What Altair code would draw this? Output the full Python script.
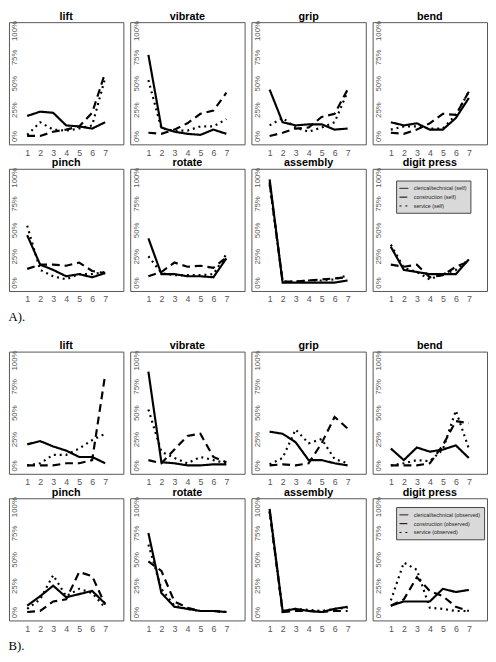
import altair as alt
import pandas as pd

tasks = ["lift", "vibrate", "grip", "bend", "pinch", "rotate", "assembly", "digit press"]
levels = [1, 2, 3, 4, 5, 6, 7]
y_ticks = [0, 25, 50, 75, 100]

self_series = ["clerical/technical (self)", "construction (self)", "service (self)"]
obs_series = ["clerical/technical (observed)", "construction (observed)", "service (observed)"]

# ---- A) self-reported (% of respondents at each level) ----
self_clerical = {
    "lift": [19, 23, 22, 10, 9, 7, 13],
    "vibrate": [77, 8, 4, 2, 1, 6, 2],
    "grip": [44, 13, 10, 11, 11, 6, 7],
    "bend": [13, 10, 12, 6, 6, 17, 36],
    "pinch": [45, 17, 12, 6, 8, 5, 9],
    "rotate": [42, 8, 8, 6, 6, 5, 23],
    "assembly": [98, 0, 0, 0, 0, 0, 2],
    "digit press": [34, 12, 10, 8, 8, 8, 22],
}
self_construction = {
    "lift": [0, 0, 4, 6, 9, 22, 60],
    "vibrate": [3, 2, 6, 12, 21, 24, 41],
    "grip": [0, 3, 7, 8, 18, 21, 44],
    "bend": [3, 2, 6, 12, 21, 20, 42],
    "pinch": [13, 17, 17, 16, 19, 11, 9],
    "rotate": [6, 10, 19, 15, 16, 14, 24],
    "assembly": [95, 1, 1, 2, 3, 4, 5],
    "digit press": [17, 15, 17, 5, 7, 15, 20],
}
self_service = {
    "lift": [1, 13, 6, 5, 7, 10, 55],
    "vibrate": [53, 7, 5, 5, 9, 9, 16],
    "grip": [10, 17, 8, 4, 8, 13, 42],
    "bend": [6, 9, 9, 7, 7, 20, 42],
    "pinch": [54, 12, 6, 3, 8, 8, 10],
    "rotate": [25, 9, 7, 7, 7, 8, 27],
    "assembly": [93, 1, 1, 2, 2, 3, 7],
    "digit press": [36, 14, 10, 3, 8, 12, 22],
}

# ---- B) observed ----
obs_clerical = {
    "lift": [20, 23, 18, 14, 8, 8, 2],
    "vibrate": [89, 3, 2, 0, 0, 1, 1],
    "grip": [32, 30, 22, 5, 5, 2, 0],
    "bend": [16, 5, 17, 13, 15, 19, 7],
    "pinch": [6, 15, 25, 14, 17, 20, 8],
    "rotate": [75, 18, 5, 3, 1, 1, 0],
    "assembly": [98, 1, 3, 1, 0, 3, 5],
    "digit press": [6, 10, 10, 10, 22, 19, 21],
}
obs_construction = {
    "lift": [0, 0, 0, 2, 2, 5, 86],
    "vibrate": [5, 2, 15, 28, 30, 8, 3],
    "grip": [0, 1, 0, 2, 21, 46, 35],
    "bend": [0, 0, 0, 2, 19, 42, 40],
    "pinch": [0, 1, 10, 12, 38, 34, 7],
    "rotate": [48, 39, 10, 4, 1, 1, 0],
    "assembly": [96, 0, 1, 1, 0, 1, 1],
    "digit press": [6, 12, 33, 20, 15, 5, 1],
}
obs_service = {
    "lift": [0, 2, 10, 10, 16, 24, 30],
    "vibrate": [53, 13, 7, 2, 8, 5, 2],
    "grip": [1, 7, 34, 21, 25, 6, 2],
    "bend": [0, 2, 5, 4, 15, 52, 16],
    "pinch": [3, 12, 35, 15, 22, 18, 4],
    "rotate": [64, 22, 6, 3, 1, 1, 0],
    "assembly": [95, 1, 3, 2, 1, 3, 4],
    "digit press": [11, 47, 40, 4, 3, 1, 1],
}


def build(series_names, tables):
    rows = []
    for name, table in zip(series_names, tables):
        for task in tasks:
            for lvl, v in zip(levels, table[task]):
                rows.append({"task": task, "level": lvl, "pct": v, "series": name})
    return pd.DataFrame(rows)


df_self = build(self_series, [self_clerical, self_construction, self_service])
df_obs = build(obs_series, [obs_clerical, obs_construction, obs_service])

W, H = 117, 125
DASHES = [[1, 0], [8, 5], [2, 4]]


def panel(df, task, series_names, legend_y):
    if task == "digit press":
        legend = alt.Legend(
            title=None, orient="none", legendX=24, legendY=legend_y,
            fillColor="#d9d9d9", strokeColor="#444", padding=3,
            labelFontSize=5.5, labelColor="#222", labelFont="Liberation Sans",
            symbolType="stroke", symbolStrokeColor="black", symbolStrokeWidth=1,
            symbolSize=81, rowPadding=0, labelOffset=5, labelLimit=200,
        )
    else:
        legend = None
    return (
        alt.Chart(df)
        .transform_filter(alt.datum.task == task)
        .mark_line(color="black", strokeWidth=2.2)
        .encode(
            x=alt.X(
                "level:Q",
                scale=alt.Scale(domain=[-0.4, 8.4], nice=False, zero=False),
                axis=alt.Axis(values=levels, title=None, grid=False, domain=False,
                              ticks=False, labelPadding=4, labelFontSize=9,
                              labelColor="#555", labelFlush=False),
            ),
            y=alt.Y(
                "pct:Q",
                scale=alt.Scale(domain=[-8, 108], nice=False, zero=False),
                axis=alt.Axis(values=y_ticks, labelExpr="datum.value + '%'", title=None,
                              grid=False, domain=False, ticks=False, offset=-10,
                              labelPadding=0, labelAngle=-90, labelAlign="center",
                              labelBaseline="bottom", labelFontSize=8,
                              labelColor="#555", labelFlush=False, labelOverlap=False),
            ),
            strokeDash=alt.StrokeDash(
                "series:N",
                scale=alt.Scale(domain=series_names, range=DASHES),
                legend=legend,
            ),
            order="level:Q",
        )
        .properties(
            width=W, height=H,
            title=alt.TitleParams(task, fontSize=11, fontWeight="bold", offset=-1,
                                  color="black", font="Liberation Sans"),
        )
    )


def group(df, series_names, label, legend_y):
    rows = []
    for r in range(2):
        row = alt.hconcat(
            *[panel(df, t, series_names, legend_y) for t in tasks[r * 4:(r + 1) * 4]],
            spacing=5,
        ).resolve_scale(strokeDash="independent").resolve_legend(strokeDash="independent")
        rows.append(row)
    return (
        alt.vconcat(
            *rows, spacing=-2,
            title=alt.TitleParams(label, orient="bottom", anchor="start", fontSize=13,
                                  fontWeight="normal", font="Liberation Serif",
                                  color="black", offset=7),
        )
        .resolve_scale(strokeDash="independent")
        .resolve_legend(strokeDash="independent")
    )


chart = (
    alt.vconcat(
        group(df_self, self_series, "A).", 12),
        group(df_obs, obs_series, "B).", 9),
        spacing=15,
    )
    .resolve_scale(strokeDash="independent")
    .resolve_legend(strokeDash="independent")
    .properties(padding={"top": -6, "left": 0, "right": 0, "bottom": 0})
    .configure(font="Liberation Sans")
    .configure_view(stroke="#555", strokeWidth=1)
    .configure_concat(spacing=5)
)

chart.save("out.html", embed_options={"renderer": "svg", "actions": False})
